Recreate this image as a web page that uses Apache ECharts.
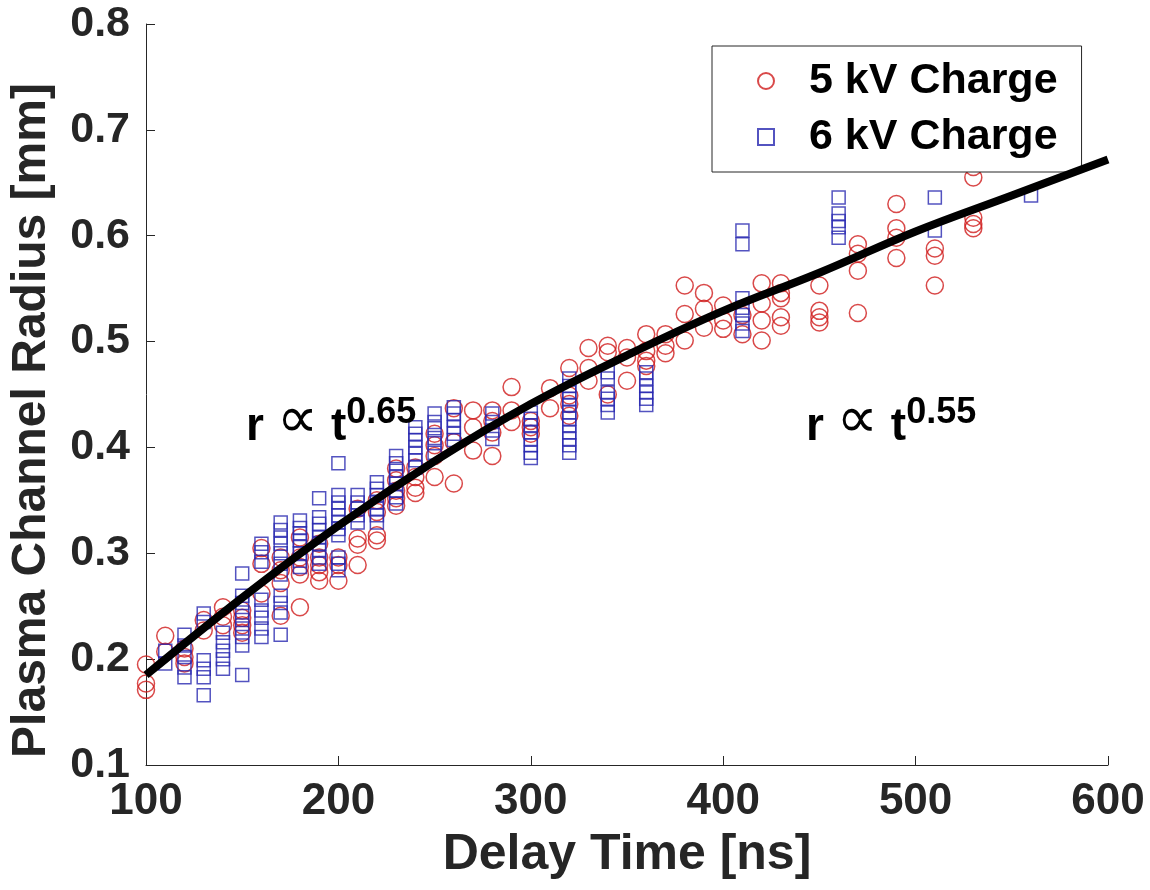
<!DOCTYPE html>
<html>
<head>
<meta charset="utf-8">
<script src="https://cdn.jsdelivr.net/npm/echarts@6/dist/echarts.min.js"></script>
<style>
html,body{margin:0;padding:0;background:#fff;}
#chart{width:1150px;height:890px;}
</style>
</head>
<body>
<div id="chart"></div>
<script>
// ---- Data ----
const xTicks = [100, 200, 300, 400, 500, 600];
const yTicks = [0.1, 0.2, 0.3, 0.4, 0.5, 0.6, 0.7, 0.8];

// 5 kV Charge: [delay time (ns), radius (mm)]
const charge5kV = [
  [100,0.195],[100,0.177],[100,0.171],
  [110,0.222],[110,0.207],
  [120,0.210],[120,0.202],[120,0.196],
  [130,0.237],[130,0.227],
  [140,0.249],[140,0.240],[140,0.232],
  [150,0.246],[150,0.239],[150,0.232],[150,0.225],
  [160,0.305],[160,0.290],[160,0.262],
  [170,0.296],[170,0.284],[170,0.272],[170,0.241],
  [180,0.315],[180,0.296],[180,0.287],[180,0.280],[180,0.249],
  [190,0.309],[190,0.296],[190,0.289],[190,0.282],[190,0.274],
  [200,0.296],[200,0.289],[200,0.274],
  [210,0.342],[210,0.314],[210,0.308],[210,0.289],
  [220,0.350],[220,0.339],[220,0.317],[220,0.312],
  [230,0.380],[230,0.369],[230,0.359],[230,0.352],[230,0.345],
  [240,0.381],[240,0.372],[240,0.362],[240,0.357],
  [250,0.413],[250,0.402],[250,0.392],[250,0.372],
  [260,0.437],[260,0.405],[260,0.366],
  [270,0.435],[270,0.419],[270,0.397],
  [280,0.435],[280,0.425],[280,0.414],[280,0.392],
  [290,0.457],[290,0.435],[290,0.424],
  [300,0.425],[300,0.419],[300,0.413],
  [310,0.456],[310,0.437],
  [320,0.475],[320,0.449],[320,0.441],[320,0.430],
  [330,0.494],[330,0.475],[330,0.463],
  [340,0.496],[340,0.490],[340,0.450],
  [350,0.494],[350,0.485],[350,0.463],
  [360,0.507],[360,0.491],[360,0.482],[360,0.477],
  [370,0.507],[370,0.496],[370,0.489],
  [380,0.553],[380,0.526],[380,0.501],
  [390,0.546],[390,0.531],[390,0.513],
  [400,0.534],[400,0.520],[400,0.512],
  [410,0.525],[410,0.507],
  [420,0.555],[420,0.536],[420,0.520],[420,0.501],
  [430,0.555],[430,0.546],[430,0.541],[430,0.523],[430,0.515],
  [450,0.553],[450,0.529],[450,0.523],[450,0.518],
  [470,0.592],[470,0.583],[470,0.567],[470,0.527],
  [490,0.630],[490,0.607],[490,0.598],[490,0.579],
  [510,0.588],[510,0.581],[510,0.553],
  [530,0.665],[530,0.655],[530,0.617],[530,0.611],[530,0.607]
];

// 6 kV Charge: [delay time (ns), radius (mm)]
const charge6kV = [
  [110,0.208],[110,0.196],
  [120,0.223],[120,0.213],[120,0.202],[120,0.192],[120,0.183],
  [130,0.243],[130,0.235],[130,0.199],[130,0.191],[130,0.183],[130,0.166],
  [140,0.225],[140,0.216],[140,0.208],[140,0.200],[140,0.191],
  [150,0.281],[150,0.260],[150,0.253],[150,0.244],[150,0.237],[150,0.229],[150,0.221],[150,0.213],[150,0.185],
  [160,0.309],[160,0.301],[160,0.292],[160,0.256],[160,0.246],[160,0.239],[160,0.229],[160,0.221],
  [170,0.329],[170,0.322],[170,0.315],[170,0.309],[170,0.300],[170,0.290],[170,0.280],[170,0.260],[170,0.253],[170,0.244],[170,0.223],
  [180,0.331],[180,0.324],[180,0.319],[180,0.312],[180,0.306],[180,0.300],[180,0.293],[180,0.287],
  [190,0.352],[190,0.334],[190,0.328],[190,0.322],[190,0.315],[190,0.309],[190,0.303],[190,0.296],[190,0.290],
  [200,0.385],[200,0.355],[200,0.348],[200,0.342],[200,0.336],[200,0.329],[200,0.323],[200,0.317],[200,0.296],[200,0.290],[200,0.284],
  [210,0.355],[210,0.348],[210,0.342],[210,0.336],[210,0.329],
  [220,0.367],[220,0.361],[220,0.355],[220,0.348],[220,0.342],[220,0.336],[220,0.329],
  [230,0.392],[230,0.385],[230,0.378],[230,0.372],[230,0.366],[230,0.359],[230,0.353],[230,0.347],
  [240,0.419],[240,0.413],[240,0.407],[240,0.400],[240,0.394],[240,0.388],[240,0.381],
  [250,0.432],[250,0.424],[250,0.418],[250,0.409],[250,0.404],[250,0.395],
  [260,0.438],[260,0.432],[260,0.426],[260,0.419],[260,0.413],[260,0.407],
  [280,0.432],[280,0.424],[280,0.416],[280,0.408],
  [300,0.433],[300,0.427],[300,0.421],[300,0.414],[300,0.408],[300,0.402],[300,0.395],[300,0.390],
  [320,0.465],[320,0.458],[320,0.452],[320,0.446],[320,0.440],[320,0.433],[320,0.427],[320,0.421],[320,0.414],[320,0.408],[320,0.402],[320,0.395],
  [340,0.471],[340,0.465],[340,0.452],[340,0.446],[340,0.440],[340,0.433],
  [360,0.471],[360,0.465],[360,0.458],[360,0.452],[360,0.446],[360,0.440],
  [410,0.605],[410,0.592],[410,0.541],[410,0.532],[410,0.525],[410,0.517],[410,0.510],
  [460,0.636],[460,0.621],[460,0.614],[460,0.608],[460,0.598],
  [510,0.636],[510,0.605],
  [560,0.638]
];

// Fitted curve
const fitX = [100, 150, 200, 250, 300, 350, 400, 450, 500, 550, 600];
const fitY = [0.185, 0.258, 0.326, 0.387, 0.441, 0.487, 0.529, 0.565, 0.604, 0.638, 0.672];

// Annotations: [exponent, anchor x (ns), anchor y (mm, baseline)]
const annotations = [
  ['0.65', 152, 0.397],
  ['0.55', 443, 0.397]
];

const seriesNames = ['5 kV Charge', '6 kV Charge'];

// ---- Chart ----
const FONT = '"Liberation Sans", Arial, Helvetica, sans-serif';
const RED = '#d01c1c';
const BLUE = '#2828b0';
const AXIS = '#262626';

const chart = echarts.init(document.getElementById('chart'), null, {renderer: 'canvas'});

const option = {
  animation: false,
  backgroundColor: '#ffffff',
  grid: {left: 143, right: 42, top: 24, bottom: 125, containLabel: false},
  xAxis: {
    type: 'value',
    min: xTicks[0], max: xTicks[xTicks.length - 1], interval: 100,
    name: 'Delay Time [ns]',
    nameLocation: 'middle',
    nameGap: 65,
    nameTextStyle: {fontFamily: FONT, fontWeight: 'bold', fontSize: 50, color: '#262626'},
    axisLine: {show: true, lineStyle: {color: AXIS, width: 1}},
    axisTick: {show: true, inside: true, length: 9, lineStyle: {color: AXIS}},
    axisLabel: {fontFamily: FONT, fontWeight: 'bold', fontSize: 44, color: '#262626', margin: 15},
    splitLine: {show: false}
  },
  yAxis: {
    type: 'value',
    min: yTicks[0], max: yTicks[yTicks.length - 1], interval: 0.1,
    name: 'Plasma Channel Radius [mm]',
    nameLocation: 'middle',
    nameGap: 90,
    nameTextStyle: {fontFamily: FONT, fontWeight: 'bold', fontSize: 48, color: '#262626', padding: [0, 52, 0, 0]},
    axisLine: {show: true, lineStyle: {color: AXIS, width: 1}},
    axisTick: {show: true, inside: true, length: 9, lineStyle: {color: AXIS}},
    axisLabel: {fontFamily: FONT, fontWeight: 'bold', fontSize: 43, color: '#262626', margin: 16,
      formatter: v => v.toFixed(1)},
    splitLine: {show: false}
  },
  legend: {
    data: seriesNames,
    orient: 'vertical',
    left: 712, top: 46,
    backgroundColor: '#ffffff',
    borderColor: '#262626',
    borderWidth: 1,
    padding: [13, 24, 13, 45],
    itemGap: 12,
    itemWidth: 16, itemHeight: 16,
    textStyle: {fontFamily: FONT, fontWeight: 'bold', fontSize: 43, color: '#000', lineHeight: 44, padding: [0, 0, 0, 30]}
  },
  series: [
    {
      name: seriesNames[0],
      type: 'scatter',
      data: charge5kV,
      symbol: 'circle',
      symbolSize: 17,
      itemStyle: {color: 'rgba(0,0,0,0)', borderColor: RED, borderWidth: 1.5},
      z: 2
    },
    {
      name: seriesNames[1],
      type: 'scatter',
      data: charge6kV,
      symbol: 'rect',
      symbolSize: 13,
      itemStyle: {color: 'rgba(0,0,0,0)', borderColor: BLUE, borderWidth: 1.5},
      z: 3
    },
    {
      name: 'fit',
      type: 'line',
      data: fitX.map((x, i) => [x, fitY[i]]),
      smooth: 0.4,
      showSymbol: false,
      symbol: 'none',
      lineStyle: {color: '#000', width: 8},
      z: 4
    }
  ]
};

chart.setOption(option);

function placeAnnotations() {
  const g = annotations.map(a => {
    const p = chart.convertToPixel({gridIndex: 0}, [a[1], a[2]]);
    return {
      type: 'text',
      x: p[0], y: p[1],
      z: 10,
      style: {
        text: '{m|r }{p|\u221D}{m| t}{s|' + a[0] + '}',
        verticalAlign: 'bottom',
        rich: {
          m: {fontFamily: FONT, fontWeight: 'bold', fontSize: 46, lineHeight: 52, verticalAlign: 'bottom', fill: '#000'},
          p: {fontFamily: '"DejaVu Sans", sans-serif', fontWeight: 'normal', fontSize: 58, lineHeight: 56, verticalAlign: 'bottom', fill: '#000'},
          s: {fontFamily: FONT, fontWeight: 'bold', fontSize: 36, lineHeight: 36, verticalAlign: 'top', fill: '#000'}
        }
      }
    };
  });
  chart.setOption({graphic: g});
}
placeAnnotations();
</script>
</body>
</html>
